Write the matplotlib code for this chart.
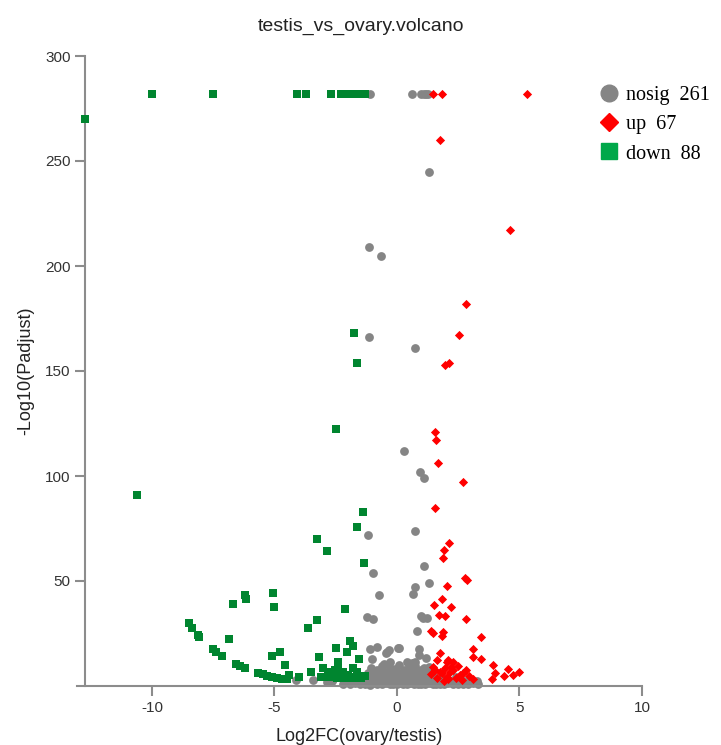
import matplotlib
matplotlib.use("Agg")
import matplotlib.pyplot as plt
from matplotlib.lines import Line2D

plt.rcParams["axes.unicode_minus"] = False

# nosig points (log2fc, -log10 padj)
nosig_x = [-1.1, 0.6, 1.0, 1.1, 1.2, 1.27,
           1.29, -1.14, -0.67, -1.13, 0.73, 0.27, 0.94, 1.10, -1.18, 0.73, 1.10,
           -0.98, 1.31, 0.73, 0.67, -0.72, 0.97, 1.07, 1.21, -1.21, -0.98, 0.83,
           -1.09, -0.83, -0.39, -0.34, 0.10, 0.88, -0.45, 0.90, 1.18, -1.03, 0.42,
           0.73, -0.29, 0.05, -4.12, -3.42, -2.80, -2.60, -2.85, -2.65,
           # bottom cloud
           -2.2, -1.9, -1.7, -1.5, -1.3, -1.1, -0.95, -0.8, -0.6, -0.45, -0.3, -0.15,
           0.0, 0.1, 0.25, 0.4, 0.55, 0.7, 0.85, 1.0, 1.15, 1.3, 1.45, 1.6, 1.75,
           1.9, 2.1, 2.3, 2.5, 2.7, 2.9, 3.1, 3.3,
           -2.0, -1.8, -1.55, -1.35, -1.2, -1.0, -0.85, -0.7, -0.5, -0.35, -0.2,
           -0.05, 0.15, 0.3, 0.45, 0.6, 0.8, 0.95, 1.1, 1.25, 1.4, 1.55, 1.7, 2.0,
           2.2, 2.45, 2.75, 3.0, 3.25,
           -1.6, -1.4, -1.15, -0.9, -0.75, -0.55, -0.4, -0.25, -0.1, 0.05, 0.2,
           0.35, 0.5, 0.65, 0.8, 0.9, 1.05, 1.2, 1.35, 1.5, 1.85, 2.4,
           -1.2, -0.95, -0.7, -0.5, -0.2, 0.0, 0.25, 0.45, 0.6, 0.85, 1.0, 1.2, 1.4,
           -1.05, -0.6, -0.3, 0.1, 0.5, 0.75, 1.1, 1.3,
           -0.8, -0.1, 0.3, 1.0, -0.55, 0.6]
nosig_y = [282, 282, 282, 282, 282, 282,
           245, 209, 205, 166, 161, 112, 102, 99, 72, 74, 57,
           54, 49, 47, 44, 43.5, 33.3, 32.4, 32.4, 32.7, 31.9, 26,
           17.5, 18.5, 16.3, 17.1, 18, 17.5, 15.6, 14.8, 13.2, 12.7, 11.6,
           11.6, 11.6, 17.9, 2.9, 2.9, 2.5, 3.2, 1.9, 2.6,
           1.0, 0.8, 1.2, 0.9, 1.1, 0.7, 1.3, 0.9, 1.0, 1.2, 0.8, 1.1,
           0.9, 1.3, 0.8, 1.0, 1.2, 0.9, 1.1, 0.8, 1.0, 1.2, 0.9, 1.1, 0.8,
           1.0, 1.2, 0.9, 1.1, 1.0, 0.8, 1.2, 1.0,
           2.6, 2.3, 2.8, 2.4, 2.7, 2.2, 2.9, 2.5, 2.3, 2.8, 2.6,
           2.4, 2.9, 2.2, 2.7, 2.5, 2.3, 2.8, 2.6, 2.4, 2.7, 2.2, 2.5, 2.8,
           2.3, 2.6, 2.4, 2.7, 2.5,
           4.2, 3.9, 4.6, 4.0, 4.8, 3.7, 4.4, 4.1, 4.7, 3.8, 4.3,
           4.9, 4.0, 4.5, 3.8, 4.6, 4.1, 4.8, 3.9, 4.4, 4.0, 4.2,
           6.2, 6.8, 5.9, 6.5, 6.0, 6.9, 6.3, 5.8, 6.7, 6.1, 6.6, 5.9, 6.4,
           8.8, 9.4, 8.4, 9.8, 8.9, 9.5, 8.6, 9.2,
           7.6, 7.9, 7.5, 7.8, 10.5, 10.8]

# up points
up_x = [1.47, 1.83, 5.3, 1.77, 4.61, 2.80, 2.54, 1.96, 2.12, 1.55, 1.60, 1.66,
        2.71, 1.56, 2.12, 1.92, 1.86, 2.79, 2.87, 2.03, 1.82, 1.52, 2.20, 1.73,
        1.96, 2.80, 1.39, 1.48, 1.89, 1.82, 3.43, 3.12, 1.76, 3.12, 3.43, 1.62,
        2.09, 2.30, 2.03, 2.50, 3.93, 4.52, 4.98, 4.72, 4.37, 4.0, 3.89, 3.11,
        2.82, 2.71, 2.30, 2.16, 1.96, 2.05, 2.10, 1.76, 1.82, 2.57, 1.45, 1.55,
        1.40, 2.40, 2.65, 1.65, 1.9, 2.2, 2.95]
up_y = [282, 282, 282, 260, 217, 182, 167, 153, 154, 121, 117, 106,
        97, 85, 68, 65, 61, 51.3, 50.5, 47.6, 41.6, 38.6, 37.8, 33.8,
        33.3, 31.9, 26.3, 25.1, 25.9, 23.8, 23.5, 17.5, 15.8, 13.7, 12.7, 12.5,
        12.4, 11.6, 11.5, 9.5, 10.1, 8.3, 6.5, 5.2, 4.6, 6.0, 3.5, 3.5,
        7.6, 6.3, 7.6, 6.8, 8.4, 4.4, 3.3, 6.8, 6.0, 5.2, 9.0, 7.5,
        5.5, 4.0, 3.0, 4.0, 2.5, 9.2, 5.0]

# down points
down_x = [-10.0, -7.5, -4.1, -3.7, -2.7, -2.3, -2.15, -2.0, -1.85, -1.7, -1.55,
          -1.4, -1.3,
          -12.73, -10.6, -1.76, -1.65, -2.49, -1.40, -1.62, -3.28, -2.87, -1.35,
          -5.05, -5.01, -6.22, -6.18, -6.68, -2.12, -3.25, -3.62, -8.49, -8.38,
          -8.14, -8.07, -6.84, -1.92, -1.78, -2.49, -2.03, -7.52, -7.40, -7.16,
          -5.09, -4.78, -3.17, -1.54, -4.57, -2.39, -2.39, -6.57, -6.41, -6.20,
          -1.81, -2.53, -2.73, -3.03, -3.52, -5.66, -5.48, -5.32, -5.11, -4.91,
          -4.71, -4.50, -4.40, -3.99, -3.10, -2.94, -2.80, -2.60, -2.45, -2.30,
          -2.15, -2.0, -1.85, -1.70, -1.58, -1.45, -1.31, -1.99, -2.2, -1.65]
down_y = [282, 282, 282, 282, 282, 282, 282, 282, 282, 282, 282,
          282, 282,
          270, 91, 168, 154, 122.5, 82.7, 75.6, 70, 64.4, 58.4,
          44.1, 37.5, 43.3, 41.4, 39, 36.7, 31.4, 27.8, 30.1, 27.8,
          24.3, 23.5, 22.2, 21.6, 19.2, 18.3, 16.2, 17.6, 16.3, 14.3,
          14.4, 16.0, 14.0, 12.7, 10.1, 11.6, 9.7, 10.3, 9.7, 8.4,
          8.4, 7.6, 6.8, 8.4, 6.8, 6.0, 5.7, 4.9, 4.4, 4.0,
          3.3, 3.3, 5.2, 4.1, 4.1, 4.1, 5.0, 4.5, 3.8, 5.5,
          4.0, 3.6, 4.5, 3.8, 4.8, 4.0, 4.8, 5.2, 6.5, 6.8]

legend_labels = ["nosig  261", "up  67", "down  88"]

gray = "#858585"
red = "#ff0000"
green = "#00852f"

fig = plt.figure(figsize=(7.21, 7.45), dpi=100)
ax = fig.add_axes([77 / 721, 1 - 686 / 745, (642 - 77) / 721, (686 - 56) / 745])

ax.scatter(nosig_x, nosig_y, s=40, marker="o", color=gray, linewidths=0, clip_on=False, zorder=2)
ax.scatter(up_x, up_y, s=22, marker="D", color=red, linewidths=0, clip_on=False, zorder=3)
ax.scatter(down_x, down_y, s=30, marker="s", color=green, linewidths=0, clip_on=False, zorder=3)

ax.set_xlim(-13.06, 10)
ax.set_ylim(0, 300)
ax.set_xticks([-10, -5, 0, 5, 10])
ax.set_yticks([50, 100, 150, 200, 250, 300])

for side in ["top", "right"]:
    ax.spines[side].set_visible(False)
ax.spines["left"].set_position(("data", -12.73))
for side in ["left", "bottom"]:
    ax.spines[side].set_color("#8c8c8c")
    ax.spines[side].set_linewidth(1.5)
ax.tick_params(colors="#8c8c8c", labelcolor="#333333", length=7, width=1.5, labelsize=11)
for lab in ax.get_xticklabels() + ax.get_yticklabels():
    lab.set_fontfamily("Liberation Sans")

ax.set_xlabel("Log2FC(ovary/testis)", fontsize=13, family="Liberation Sans", color="#222222", labelpad=10)
ax.set_ylabel("-Log10(Padjust)", fontsize=13, family="Liberation Sans", color="#222222", labelpad=8)
fig.text(0.5, 0.964, "testis_vs_ovary.volcano", ha="center", va="center", fontsize=14,
         family="Liberation Sans", color="#222222")

handles = [Line2D([], [], marker="o", linestyle="none", color=gray, markersize=12),
           Line2D([], [], marker="D", linestyle="none", color=red, markersize=9),
           Line2D([], [], marker="s", linestyle="none", color="#00a84a", markersize=11)]
fig.legend(handles, legend_labels, loc="upper left", bbox_to_anchor=(582 / 721, 1 - 74 / 745),
           frameon=False, prop={"family": "Liberation Serif", "size": 14.5},
           handletextpad=0.1, labelspacing=0.5, handlelength=1.5, borderaxespad=0.2)

fig.savefig("out.png", dpi=100)
